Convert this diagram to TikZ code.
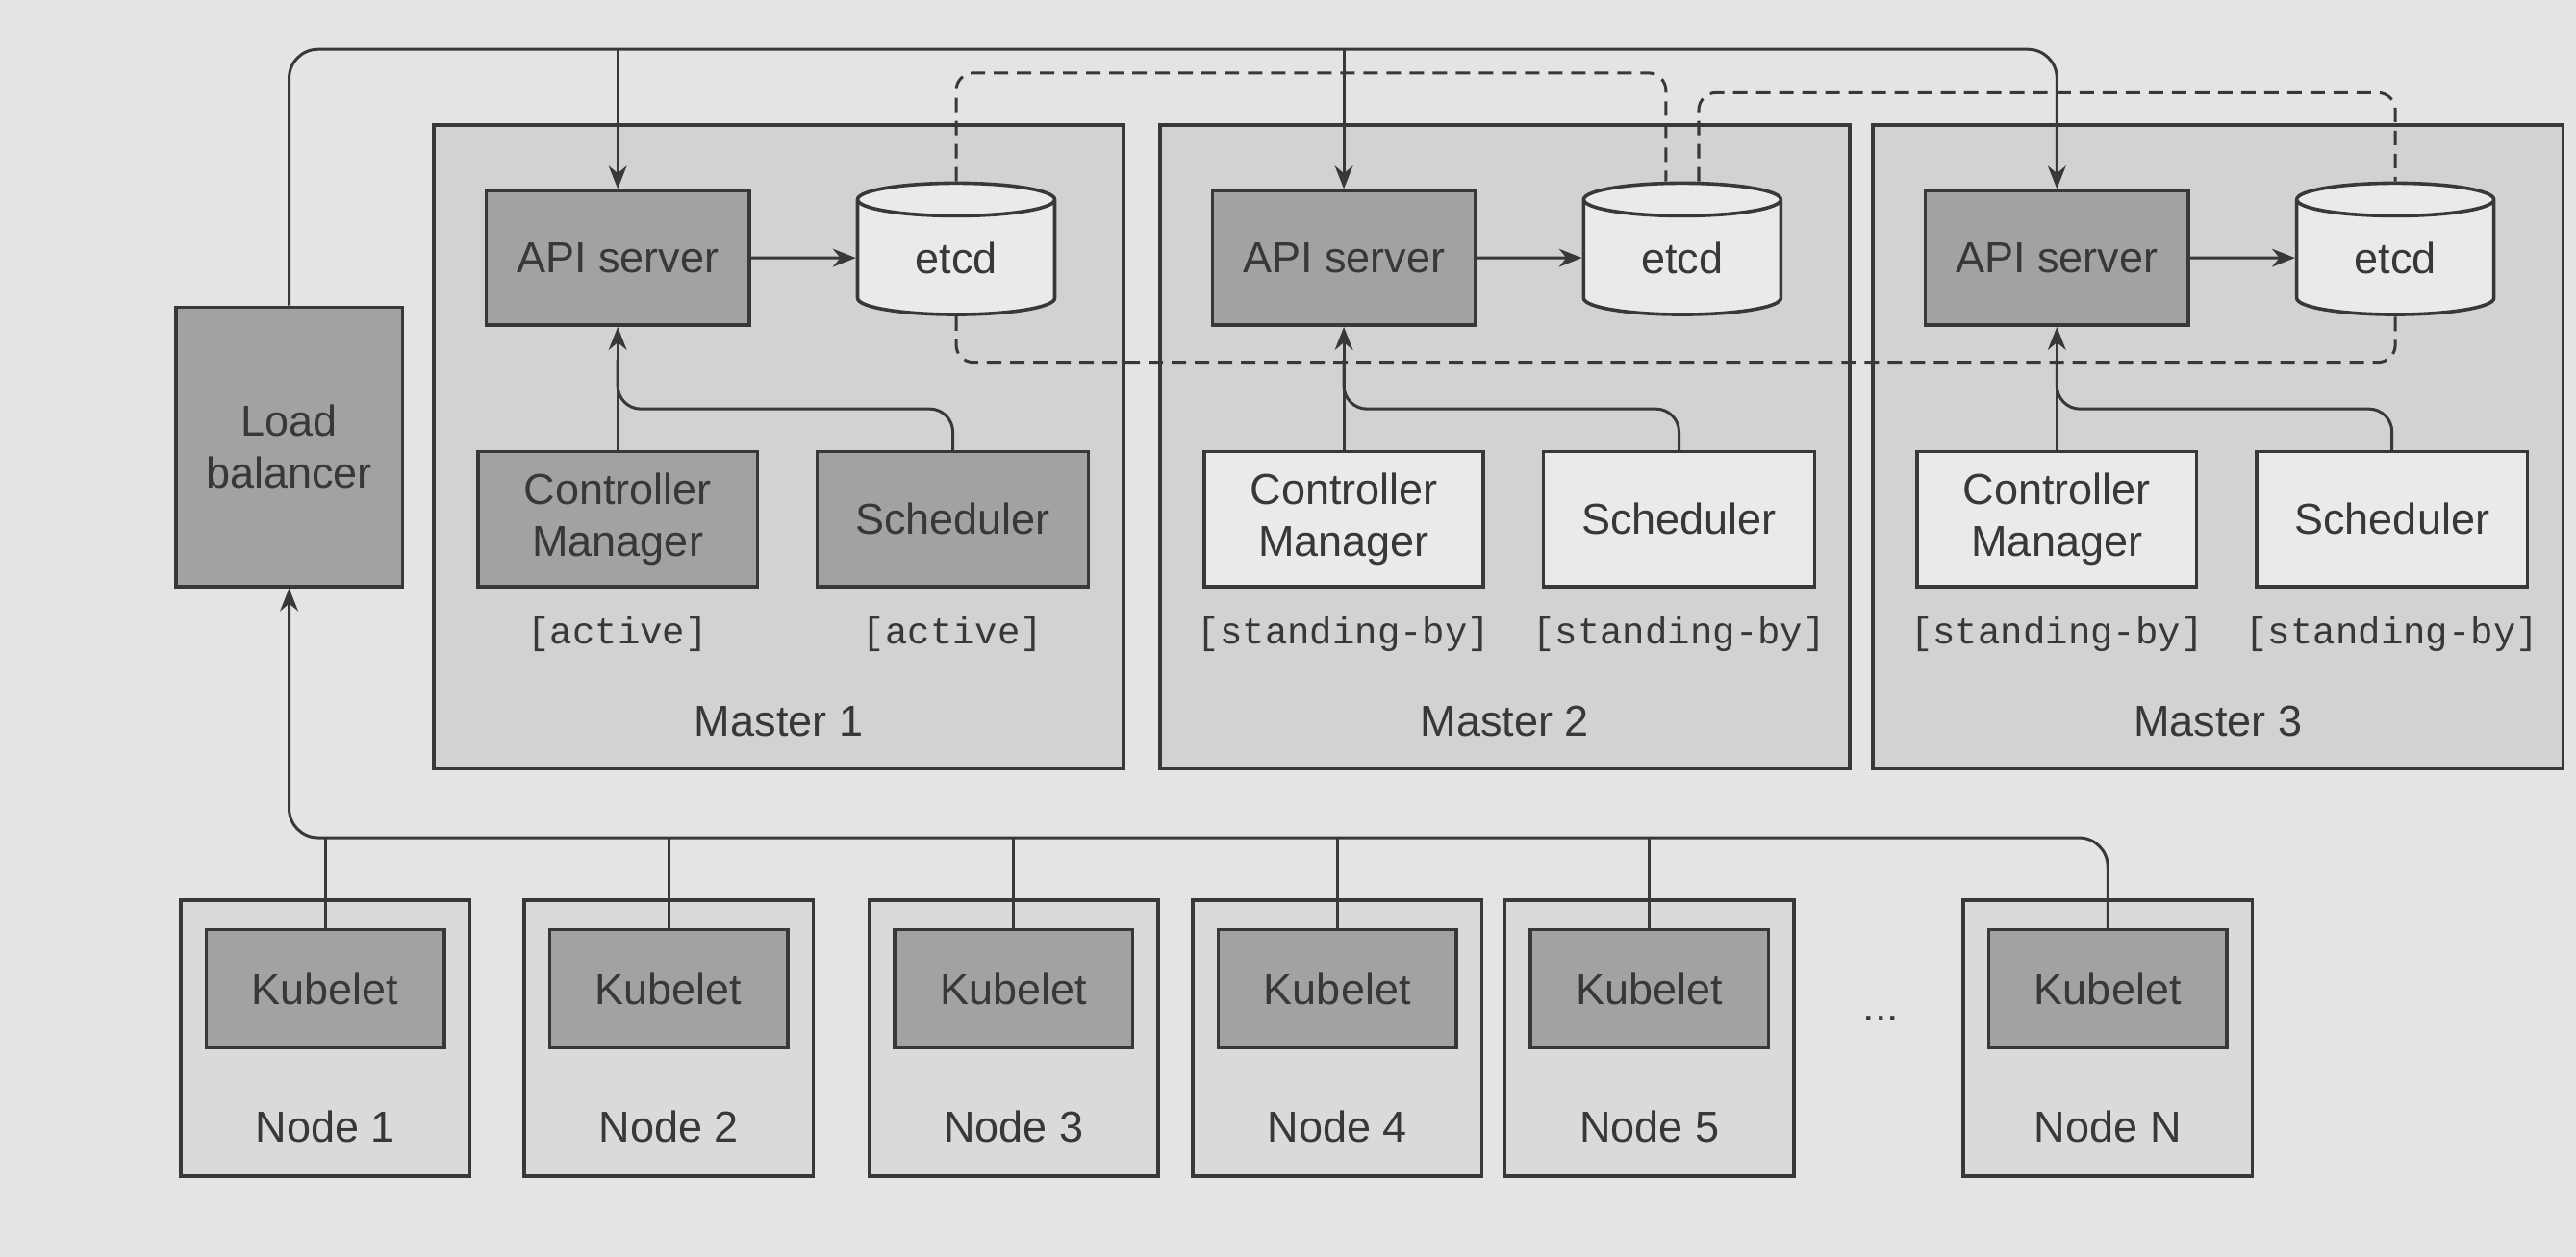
\documentclass[tikz,border=0pt]{standalone}
\usepackage{fontspec}
\setmainfont{Liberation Sans}
\setmonofont{Liberation Mono}
\usetikzlibrary{shapes.geometric, arrows.meta}

\definecolor{page}{HTML}{E4E4E4}
\definecolor{mastergray}{HTML}{D2D2D2}
\definecolor{boxdark}{HTML}{A2A2A2}
\definecolor{boxlight}{HTML}{EAEAEA}
\definecolor{nodegray}{HTML}{DADADA}
\definecolor{ink}{HTML}{383838}

\tikzset{
  box/.style={draw=ink, line width=1.2pt, text=ink, align=center, inner sep=0pt},
  dark/.style={box, fill=boxdark},
  light/.style={box, fill=boxlight},
  master/.style={box, fill=mastergray, minimum width=84mm, minimum height=78.4mm,
    label={[text=ink, anchor=center, yshift=6mm]south:#1}},
  api/.style={dark, minimum width=32mm, minimum height=16.4mm},
  etcd/.style={box, fill=boxlight, cylinder, shape border rotate=90, aspect=0.4,
    minimum width=24mm, minimum height=16mm},
  cmbox/.style={minimum width=34mm, minimum height=16.4mm},
  schedbox/.style={minimum width=33mm, minimum height=16.4mm},
  status/.style={text=ink, font=\fontsize{13}{15}\selectfont\ttfamily},
  worker/.style={box, fill=nodegray, minimum width=35.2mm, minimum height=33.6mm,
    label={[text=ink, anchor=center, yshift=6.2mm]south:#1}},
  kubelet/.style={dark, minimum width=29mm, minimum height=14.4mm},
  wire/.style={draw=ink, line width=1pt},
  link/.style={draw=ink, dash pattern=on 5pt off 3pt, line width=1pt, rounded corners=6pt}
}

\begin{document}
\begin{tikzpicture}[>={Stealth[length=2.8mm, width=2.2mm]}, x=0.2mm, y=-0.2mm, font=\fontsize{15}{18}\selectfont]
\useasboundingbox (0,0) rectangle (1568,765);
\fill[page] (0,0) rectangle (1568,765);

\node[master=Master 1] (m1) at (474,272){};
\node[master=Master 2] (m2) at (916,272){};
\node[master=Master 3] (m3) at (1350,272){};

\node[dark, minimum width=27.6mm, minimum height=34mm] (lb) at (176,272){Load\\balancer};

\node[api] (api1) at (376,157){API server};
\node[etcd] (etcd1) at (582,157){etcd};
\node[dark, cmbox] (cm1) at (376,316){Controller\\Manager};
\node[dark, schedbox] (sch1) at (580,316){Scheduler};
\node[status] (st1a) at (376,386){[active]};
\node[status] (st1b) at (580,386){[active]};

\node[api] (api2) at (818,157){API server};
\node[etcd] (etcd2) at (1024,157){etcd};
\node[light, cmbox] (cm2) at (818,316){Controller\\Manager};
\node[light, schedbox] (sch2) at (1022,316){Scheduler};
\node[status] (st2a) at (818,386){[standing-by]};
\node[status] (st2b) at (1022,386){[standing-by]};

\node[api] (api3) at (1252,157){API server};
\node[etcd] (etcd3) at (1458,157){etcd};
\node[light, cmbox] (cm3) at (1252,316){Controller\\Manager};
\node[light, schedbox] (sch3) at (1456,316){Scheduler};
\node[status] (st3a) at (1252,386){[standing-by]};
\node[status] (st3b) at (1456,386){[standing-by]};

\node[worker=Node 1] (n1) at (198,632){};
\node[worker=Node 2] (n2) at (407,632){};
\node[worker=Node 3] (n3) at (617,632){};
\node[worker=Node 4] (n4) at (814,632){};
\node[worker=Node 5] (n5) at (1004,632){};
\node[worker=Node N] (nN) at (1283,632){};
\node[kubelet] (k1) at (198,602){Kubelet};
\node[kubelet] (k2) at (407,602){Kubelet};
\node[kubelet] (k3) at (617,602){Kubelet};
\node[kubelet] (k4) at (814,602){Kubelet};
\node[kubelet] (k5) at (1004,602){Kubelet};
\node[kubelet] (kN) at (1283,602){Kubelet};
\node[text=ink] (dots) at (1145,620){...};

\coordinate (bus) at (0,30);
\coordinate (lowbus) at (0,510);

% load balancer to the API servers
\draw[->, wire, rounded corners=10pt] (lb.north) |- (api3.north |- bus) -- (api3.north);
\draw[->, wire] (api1.north |- bus) -- (api1.north);
\draw[->, wire] (api2.north |- bus) -- (api2.north);

% inside the masters
\draw[->, wire] (api1) -- (etcd1);
\draw[->, wire] (api2) -- (etcd2);
\draw[->, wire] (api3) -- (etcd3);
\draw[->, wire] (cm1) -- (api1);
\draw[->, wire] (cm2) -- (api2);
\draw[->, wire] (cm3) -- (api3);
\draw[wire, rounded corners=8pt] (sch1.north) -- ++(0,-25) -| ([yshift=-4mm]api1.south);
\draw[wire, rounded corners=8pt] (sch2.north) -- ++(0,-25) -| ([yshift=-4mm]api2.south);
\draw[wire, rounded corners=8pt] (sch3.north) -- ++(0,-25) -| ([yshift=-4mm]api3.south);

% etcd cluster
\draw[link] (etcd1.north) -- ++(0,-66) -| ([xshift=-2mm]etcd2.north);
\draw[link] ([xshift=2mm]etcd2.north) -- ++(0,-54) -| (etcd3.north);
\draw[link] (etcd1.south) -- ++(0,28) -| (etcd3.south);

% kubelets to the load balancer
\draw[->, wire, rounded corners=10pt] (kN.north) |- (lb.south |- lowbus) -- (lb.south);
\draw[wire] (k1.north) -- (k1.north |- lowbus);
\draw[wire] (k2.north) -- (k2.north |- lowbus);
\draw[wire] (k3.north) -- (k3.north |- lowbus);
\draw[wire] (k4.north) -- (k4.north |- lowbus);
\draw[wire] (k5.north) -- (k5.north |- lowbus);
\end{tikzpicture}
\end{document}
